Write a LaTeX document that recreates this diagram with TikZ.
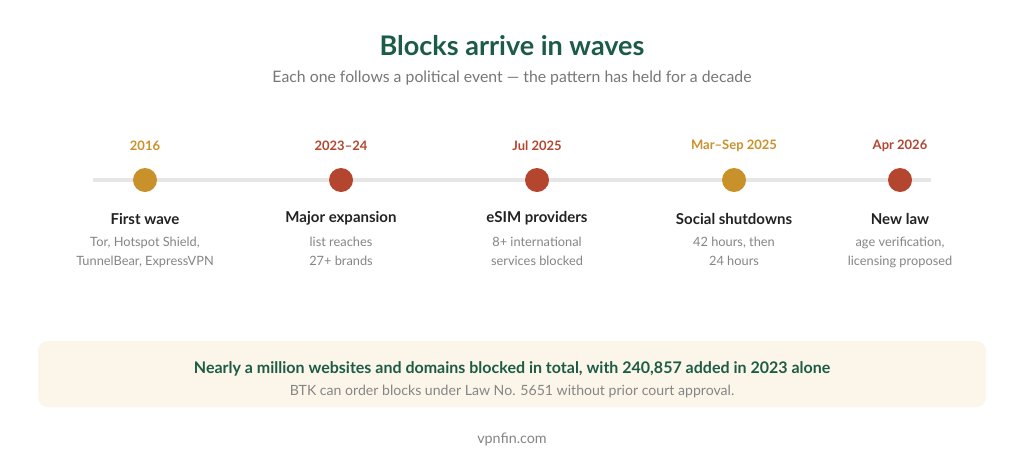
\documentclass[tikz,border=0pt]{standalone}
\usepackage{fontspec}
\setmainfont{Lato}
\definecolor{tgreen}{HTML}{1C5C45}
\definecolor{gold}{HTML}{C9912A}
\definecolor{rust}{HTML}{B4452F}
\definecolor{linegray}{HTML}{E6E6E6}
\definecolor{subgray}{HTML}{777777}
\definecolor{descgray}{HTML}{858585}
\definecolor{dark}{HTML}{222222}
\definecolor{cream}{HTML}{FCF6EA}
\begin{document}
\begin{tikzpicture}[x=1pt,y=-1pt,
  year/.style={font=\bfseries\fontsize{13}{15}\selectfont, anchor=center},
  ttl/.style={font=\bfseries\fontsize{15}{18}\selectfont, text=dark, anchor=center},
  desc/.style={font=\fontsize{12.8}{19}\selectfont, text=descgray, align=center, anchor=north},
  dot/.style={circle, minimum size=24pt, inner sep=0pt}]
\useasboundingbox (0,0) rectangle (1024,461);
\fill[white] (0,0) rectangle (1024,461);
\node[font=\bfseries\fontsize{27}{31}\selectfont, text=tgreen] (title) at (512,46) {Blocks arrive in waves};
\node[font=\fontsize{15.8}{19}\selectfont, text=subgray] (sub) at (512,78) {Each one follows a political event — the pattern has held for a decade};
\coordinate (ls) at (93,180);
\coordinate (le) at (931,180);
\draw[linegray, line width=4pt] (ls) -- (le);
% events
\foreach \n/\x/\c/\y/\t/\d in {
 a/145/gold/2016/First wave/{Tor, Hotspot Shield,\\TunnelBear, ExpressVPN},
 b/341/rust/2023–24/Major expansion/{list reaches\\27+ brands},
 c/537/rust/Jul 2025/eSIM providers/{8+ international\\services blocked},
 d/734/gold/Mar–Sep 2025/Social shutdowns/{42 hours, then\\24 hours},
 e/900/rust/Apr 2026/New law/{age verification,\\licensing proposed}}{
  \node[year, text=\c] (y\n) at (\x,145.5) {\y};
  \node[dot, fill=\c] (d\n) at (\x,180) {};
  \node[ttl] (t\n) at (\x,218.5) {\t};
  \node[desc] (s\n) at (\x,234) {\d};
}
\node[draw=none, fill=cream, rounded corners=10pt, minimum width=948pt, minimum height=66pt] (box) at (512,374) {};
\node[font=\bfseries\fontsize{16}{19}\selectfont, text=tgreen] (bt) at (512,369) {Nearly a million websites and domains blocked in total, with 240,857 added in 2023 alone};
\node[font=\fontsize{14.1}{17}\selectfont, text=descgray] (bs) at (512,392) {BTK can order blocks under Law No. 5651 without prior court approval.};
\node[font=\fontsize{14.3}{17}\selectfont, text=descgray] (foot) at (512,439) {vpnfin.com};
\end{tikzpicture}
\end{document}
